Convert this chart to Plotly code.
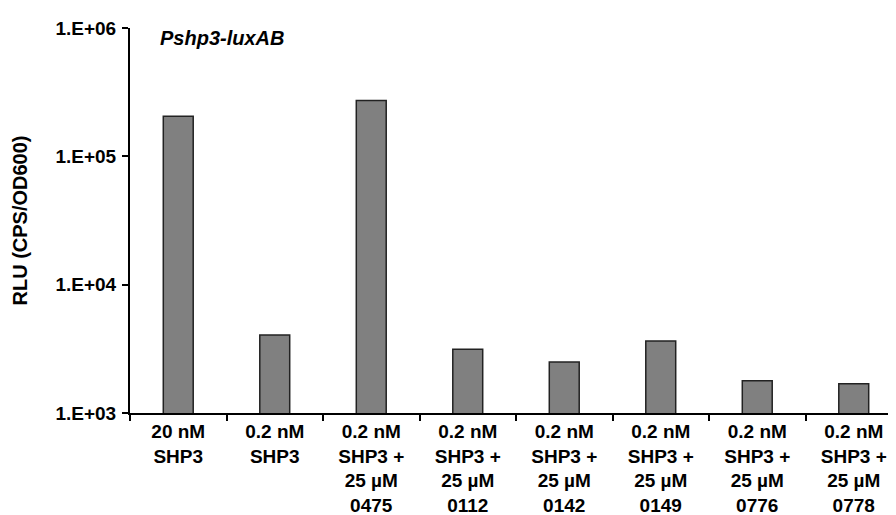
import plotly.graph_objects as go

categories = [
    "20 nM<br>SHP3",
    "0.2 nM<br>SHP3",
    "0.2 nM<br>SHP3 +<br>25 µM<br>0475",
    "0.2 nM<br>SHP3 +<br>25 µM<br>0112",
    "0.2 nM<br>SHP3 +<br>25 µM<br>0142",
    "0.2 nM<br>SHP3 +<br>25 µM<br>0149",
    "0.2 nM<br>SHP3 +<br>25 µM<br>0776",
    "0.2 nM<br>SHP3 +<br>25 µM<br>0778",
]
rlu = [205000, 4050, 272000, 3140, 2500, 3640, 1780, 1690]
y_tickvals = [1e3, 1e4, 1e5, 1e6]
y_ticktext = ["1.E+03", "1.E+04", "1.E+05", "1.E+06"]

FONT = "Liberation Sans, Arial, sans-serif"

fig = go.Figure(
    go.Bar(
        x=categories,
        y=rlu,
        marker=dict(color="#808080", line=dict(color="#222222", width=1.5)),
        showlegend=False,
    )
)

fig.update_layout(
    width=896,
    height=515,
    margin=dict(l=122, r=2, t=20, b=110),
    paper_bgcolor="white",
    plot_bgcolor="white",
    bargap=0.69,
    font=dict(family=FONT, color="black"),
    annotations=[
        dict(
            text="<b><i>Pshp3-luxAB</i></b>",
            xref="paper", yref="paper",
            x=0.036, y=0.974,
            xanchor="left", yanchor="middle",
            showarrow=False,
            font=dict(family=FONT, size=20, color="black"),
        )
    ],
)

fig.update_xaxes(
    type="category",
    automargin=False,
    showline=True, linecolor="black", linewidth=2,
    ticks="outside", tickson="boundaries", ticklen=6, tickwidth=2, tickcolor="black",
    tickfont=dict(family=FONT, size=19, color="black", weight="bold"),
    ticklabelstandoff=0,
    tickangle=0,
    showgrid=False, zeroline=False,
)

fig.update_yaxes(
    type="log",
    automargin=False,
    range=[3, 6],
    tickvals=y_tickvals,
    ticktext=y_ticktext,
    showline=True, linecolor="black", linewidth=2,
    ticks="outside", ticklen=6, tickwidth=2, tickcolor="black",
    tickfont=dict(family=FONT, size=19, color="black", weight="bold"),
    ticklabelstandoff=2,
    showgrid=False, zeroline=False,
    title=dict(
        text="<b>RLU (CPS/OD600)</b>",
        font=dict(family=FONT, size=20, color="black"),
        standoff=22,
    ),
)

fig.write_html("out.html")
